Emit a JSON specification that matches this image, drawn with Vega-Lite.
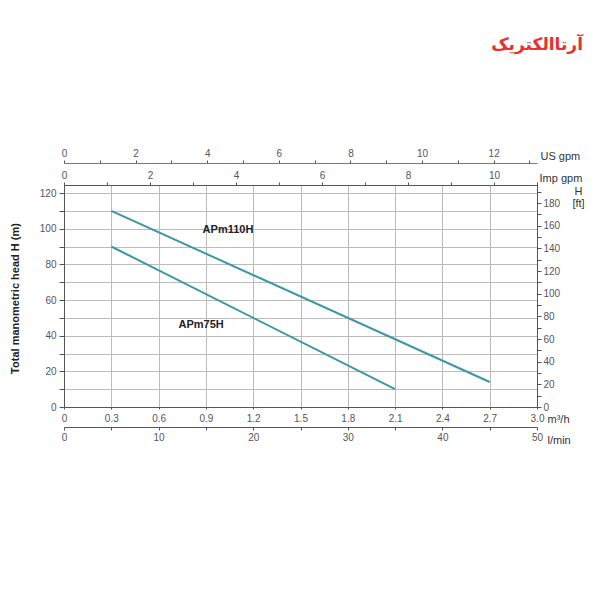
{
  "$schema": "https://vega.github.io/schema/vega-lite/v6.json",
  "width": 473,
  "height": 222,
  "autosize": "none",
  "padding": {"left": 64, "top": 185, "right": 63, "bottom": 193},
  "background": "white",
  "config": {
    "view": {"stroke": "#555", "strokeWidth": 1},
    "font": "Liberation Sans",
    "axis": {
      "labelFont": "Liberation Sans",
      "labelFontSize": 10,
      "labelColor": "#555",
      "labelOverlap": false,
      "domainColor": "#555",
      "tickColor": "#555",
      "titleFont": "Liberation Sans",
      "titleFontWeight": "normal",
      "titleFontSize": 11,
      "titleColor": "#333",
      "grid": false,
      "tickSize": 4
    }
  },
  "title": {
    "text": "آرتاالکتریک",
    "font": "DejaVu Sans",
    "fontSize": 17,
    "fontWeight": "bold",
    "color": "#e8302f",
    "anchor": "end",
    "frame": "group",
    "offset": 94,
    "dx": 46
  },
  "datasets": {
    "curves": [
      {"model": "APm110H", "q": 0.3, "h": 110},
      {"model": "APm110H", "q": 2.7, "h": 14},
      {"model": "APm75H", "q": 0.3, "h": 90},
      {"model": "APm75H", "q": 2.1, "h": 10}
    ],
    "labels": [
      {"model": "APm110H", "q": 1.04, "h": 99.3},
      {"model": "APm75H", "q": 0.87, "h": 46}
    ]
  },
  "layer": [
    {
      "data": {"name": "curves"},
      "mark": {"type": "line", "color": "#3a97a6", "strokeWidth": 2},
      "encoding": {
        "x": {
          "field": "q",
          "type": "quantitative",
          "scale": {"domain": [0, 3], "nice": false, "zero": false},
          "axis": {
            "orient": "bottom",
            "values": [0, 0.3, 0.6, 0.9, 1.2, 1.5, 1.8, 2.1, 2.4, 2.7, 3.0],
            "labelExpr": "datum.value == 0 ? '0' : format(datum.value, '.1f')",
            "grid": true,
            "gridColor": "#bbbbbb",
            "gridWidth": 1,
            "tickSize": 2,
            "labelPadding": 4,
            "labelFlush": false,
            "title": "m³/h",
            "titleAngle": 0,
            "titleAlign": "left",
            "titleBaseline": "middle",
            "titleX": 483,
            "titleY": 12
          }
        },
        "y": {
          "field": "h",
          "type": "quantitative",
          "scale": {"domain": [0, 124.5], "nice": false, "zero": true},
          "axis": {
            "orient": "left",
            "values": [0, 10, 20, 30, 40, 50, 60, 70, 80, 90, 100, 110, 120],
            "labelExpr": "datum.value % 20 == 0 ? datum.label : ''",
            "grid": true,
            "gridColor": "#bbbbbb",
            "gridWidth": 1,
            "tickSize": 5,
            "labelPadding": 3,
            "labelFlush": false,
            "title": "Total manometric head H (m)",
            "titleFontWeight": "bold",
            "titleColor": "#222",
            "titleFontSize": 11,
            "titleAngle": -90,
            "titleAlign": "center",
            "titleBaseline": "middle",
            "titleX": -49,
            "titleY": 113
          }
        },
        "detail": {"field": "model"}
      }
    },
    {
      "data": {"name": "labels"},
      "mark": {"type": "text", "fontWeight": "bold", "fontSize": 11, "color": "#222", "font": "Liberation Sans"},
      "encoding": {
        "x": {"field": "q", "type": "quantitative", "scale": {"domain": [0, 3], "nice": false, "zero": false}, "axis": null},
        "y": {"field": "h", "type": "quantitative", "scale": {"domain": [0, 124.5], "nice": false, "zero": true}, "axis": null},
        "text": {"field": "model"}
      }
    },
    {
      "data": {"values": [{}]},
      "mark": {"type": "rule", "opacity": 0},
      "encoding": {
        "x": {
          "datum": 0,
          "type": "quantitative",
          "scale": {"domain": [0, 13.21], "nice": false, "zero": true},
          "axis": {
            "orient": "top",
            "offset": 22,
            "values": [0, 1, 2, 3, 4, 5, 6, 7, 8, 9, 10, 11, 12, 13],
            "labelExpr": "datum.value % 2 == 0 ? datum.label : ''",
            "domainColor": "#777",
            "tickSize": 3,
            "labelFlush": false,
            "title": "US gpm",
            "titleAngle": 0,
            "titleAlign": "left",
            "titleBaseline": "middle",
            "titleX": 476,
            "titleY": -7
          }
        }
      }
    },
    {
      "data": {"values": [{}]},
      "mark": {"type": "rule", "opacity": 0},
      "encoding": {
        "x": {
          "datum": 0,
          "type": "quantitative",
          "scale": {"domain": [0, 11.0], "nice": false, "zero": true},
          "axis": {
            "orient": "top",
            "offset": 0,
            "values": [0, 1, 2, 3, 4, 5, 6, 7, 8, 9, 10, 11],
            "labelExpr": "datum.value % 2 == 0 && datum.value <= 10 ? datum.label : ''",
            "tickSize": 3,
            "labelFlush": false,
            "title": "Imp gpm",
            "titleAngle": 0,
            "titleAlign": "left",
            "titleBaseline": "middle",
            "titleX": 475,
            "titleY": -7
          }
        }
      }
    },
    {
      "data": {"values": [{}]},
      "mark": {"type": "rule", "opacity": 0},
      "encoding": {
        "x": {
          "datum": 0,
          "type": "quantitative",
          "scale": {"domain": [0, 50], "nice": false, "zero": true},
          "axis": {
            "orient": "bottom",
            "offset": 20,
            "values": [0, 5, 10, 15, 20, 25, 30, 35, 40, 45, 50],
            "labelExpr": "datum.value % 10 == 0 ? datum.label : ''",
            "tickSize": 3,
            "labelFlush": false,
            "title": "l/min",
            "titleAngle": 0,
            "titleAlign": "left",
            "titleBaseline": "middle",
            "titleX": 483,
            "titleY": 13
          }
        }
      }
    },
    {
      "data": {"values": [{}]},
      "mark": {"type": "rule", "opacity": 0},
      "encoding": {
        "y": {
          "datum": 0,
          "type": "quantitative",
          "scale": {"domain": [0, 196], "nice": false, "zero": true},
          "axis": {
            "orient": "right",
            "values": [0, 10, 20, 30, 40, 50, 60, 70, 80, 90, 100, 110, 120, 130, 140, 150, 160, 170, 180, 190],
            "labelExpr": "datum.value % 20 == 0 ? datum.label : ''",
            "tickSize": 4,
            "labelPadding": 2,
            "labelFlush": false,
            "title": ["H", "[ft]"],
            "titleAngle": 0,
            "titleAlign": "center",
            "titleBaseline": "top",
            "titleLineHeight": 12,
            "titleX": 41,
            "titleY": 0
          }
        }
      }
    }
  ],
  "resolve": {
    "scale": {"x": "independent", "y": "independent"},
    "axis": {"x": "independent", "y": "independent"}
  }
}
